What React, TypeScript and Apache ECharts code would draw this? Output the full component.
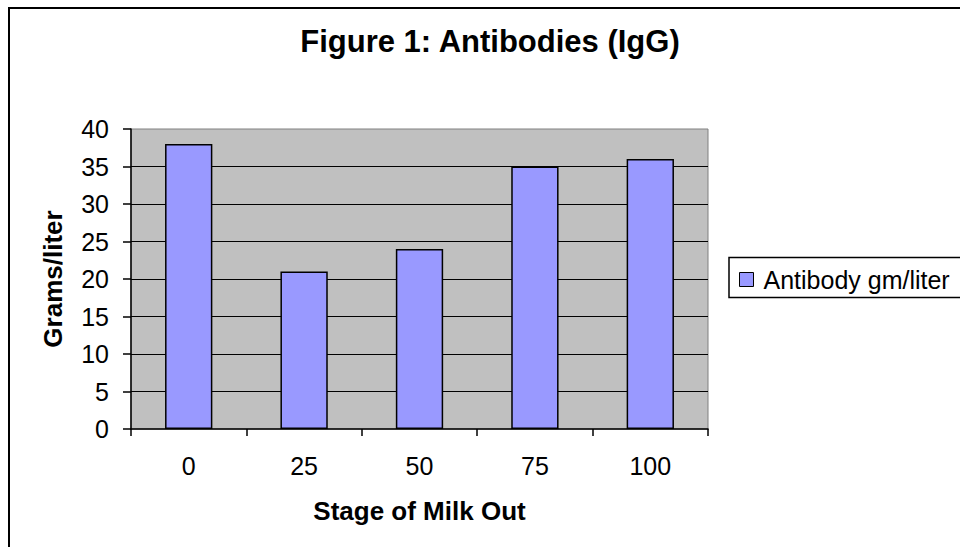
import React, { useEffect, useRef } from "react";
import * as echarts from "echarts";

const categories = ["0", "25", "50", "75", "100"];
const values = [38, 21, 24, 35, 36];
const seriesName = "Antibody gm/liter";
const titleText = "Figure 1: Antibodies (IgG)";
const xName = "Stage of Milk Out";
const yName = "Grams/liter";

const FONT = "'Liberation Sans', Arial, sans-serif";

export default function App() {
  const ref = useRef<HTMLDivElement>(null);
  useEffect(() => {
    if (!ref.current) return;
    const chart = echarts.init(ref.current, undefined, { renderer: "svg" });
    chart.setOption({
      animation: false,
      backgroundColor: "#ffffff",
      title: {
        text: titleText,
        left: 490,
        textAlign: "center",
        top: 26,
        padding: 0,
        textStyle: { fontFamily: FONT, fontSize: 31, fontWeight: "bold", color: "#000" },
      },
      grid: {
        left: 131,
        top: 129,
        width: 577,
        height: 300,
        show: true,
        backgroundColor: "#C0C0C0",
        borderColor: "#808080",
        borderWidth: 1,
        containLabel: false,
      },
      legend: {
        show: true,
        left: 739,
        top: 267,
        padding: 0,
        itemWidth: 14,
        itemHeight: 14,
        itemGap: 0,
        icon: "rect",
        textStyle: { fontFamily: FONT, fontSize: 25, color: "#000", padding: [0, 0, 0, 5] },
        data: [{ name: seriesName, itemStyle: { color: "#9999FF", borderColor: "#000", borderWidth: 1 } }],
      },
      xAxis: {
        type: "category",
        data: categories,
        boundaryGap: true,
        name: xName,
        nameLocation: "middle",
        nameGap: 69,
        nameTextStyle: { fontFamily: FONT, fontSize: 26, fontWeight: "bold", color: "#000" },
        axisLine: { show: true, lineStyle: { color: "#000", width: 1.5 } },
        axisTick: { show: true, length: 7, alignWithLabel: false, lineStyle: { color: "#000", width: 1.5 } },
        axisLabel: { fontFamily: FONT, fontSize: 25, color: "#000", margin: 24 },
      },
      yAxis: {
        type: "value",
        min: 0,
        max: 40,
        interval: 5,
        name: yName,
        nameLocation: "middle",
        nameGap: 65,
        nameTextStyle: { fontFamily: FONT, fontSize: 26, fontWeight: "bold", color: "#000" },
        axisLine: { show: true, lineStyle: { color: "#000", width: 1.5 } },
        axisTick: { show: true, length: 8, lineStyle: { color: "#000", width: 1.5 } },
        axisLabel: { fontFamily: FONT, fontSize: 25, color: "#000", margin: 22 },
        splitLine: { show: true, showMinLine: false, showMaxLine: false, lineStyle: { color: "#000", width: 1 } },
      },
      series: [
        {
          type: "bar",
          name: seriesName,
          data: values,
          barWidth: "41%",
          itemStyle: { color: "#9999FF", borderColor: "#000", borderWidth: 1.5 },
        },
      ],
      graphic: [
        {
          type: "rect",
          silent: true,
          shape: { x: 9, y: 8, width: 1000, height: 600 },
          style: { fill: "none", stroke: "#000", lineWidth: 2 },
        },
        {
          type: "rect",
          silent: true,
          shape: { x: 729, y: 257.5, width: 400, height: 40 },
          style: { fill: "none", stroke: "#000", lineWidth: 1.5 },
        },
      ],
    });
    return () => chart.dispose();
  }, []);
  return (
    <div
      ref={ref}
      style={{ position: "fixed", left: 0, top: 0, width: 960, height: 547 }}
    />
  );
}
